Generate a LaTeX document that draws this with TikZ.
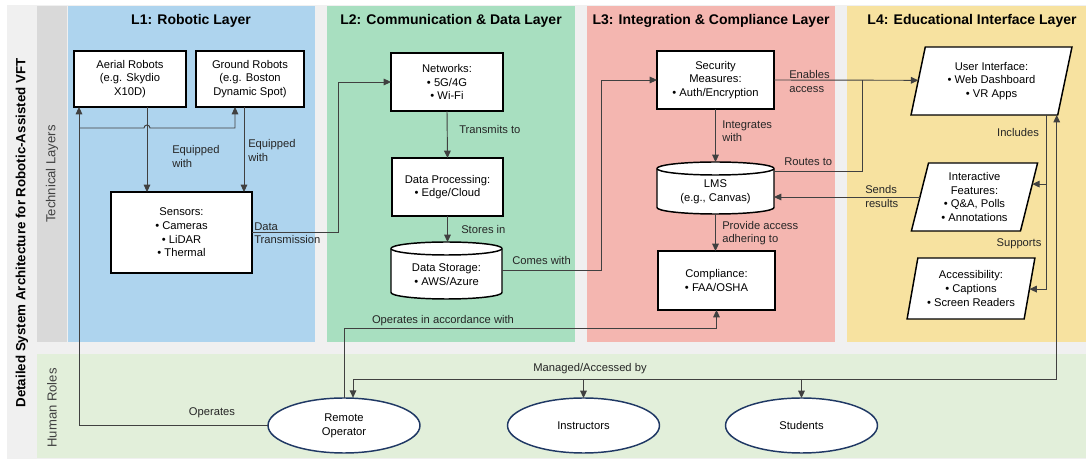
\documentclass[tikz,border=0pt]{standalone}
\usepackage{fontspec}
\setmainfont{Liberation Sans}
\usetikzlibrary{arrows.meta,calc,shapes.geometric}
\definecolor{bgG}{HTML}{F0F0F0}
\definecolor{stripG}{HTML}{D9D9D9}
\definecolor{lyA}{HTML}{AED4EE}
\definecolor{lyB}{HTML}{A8DFC0}
\definecolor{lyC}{HTML}{F4B6B0}
\definecolor{lyD}{HTML}{F7E2A0}
\definecolor{humB}{HTML}{E2EFDA}
\definecolor{lnC}{HTML}{404040}
\definecolor{navyC}{HTML}{1F3864}
\definecolor{txC}{HTML}{262626}
\newcommand{\fbody}{\fontsize{8.4}{10.3}\selectfont}
\newcommand{\flab}{\fontsize{8.4}{9.8}\selectfont}
\newcommand{\ftitle}{\bfseries\fontsize{10.5}{12}\selectfont}
\begin{document}
\begin{tikzpicture}[x=0.75pt,y=-0.75pt,
  box/.style={draw=black,line width=1.1pt,fill=white,align=center,font=\fbody,text=black,inner sep=0pt,outer sep=0pt},
  para/.style={box,trapezium,trapezium left angle=76,trapezium right angle=104,trapezium stretches},
  role/.style={ellipse,draw=navyC,line width=1.1pt,fill=white,align=center,font=\fbody,inner sep=0pt,outer sep=0pt,minimum width=114pt,minimum height=41.25pt},
  lbl/.style={font=\flab,text=txC,align=left,inner sep=0pt},
  ttl/.style={font=\ftitle,text=black,inner sep=0pt},
  side/.style={font=\fontsize{9.8}{11}\selectfont,text=lnC,rotate=90,inner sep=0pt},
  arr/.style={draw=lnC,line width=0.7pt,-{Triangle[length=5.5pt,width=5pt]}},
  darr/.style={draw=lnC,line width=0.7pt,{Triangle[length=5.5pt,width=5pt]}-{Triangle[length=5.5pt,width=5pt]}},
  ln/.style={draw=lnC,line width=0.7pt},
  cyl/.style={draw=black,line width=1.1pt,fill=white}
]
\useasboundingbox (0,0) rectangle (1086,459);
% backgrounds
\fill[white] (0,0) rectangle (1086,459);
\fill[bgG] (7,5) rectangle (1086,459);
\fill[stripG] (37,6) rectangle (67,342);
\fill[lyA] (68,6) rectangle (315,342);
\fill[lyB] (327,6) rectangle (575,342);
\fill[lyC] (587,6) rectangle (835,342);
\fill[lyD] (847,6) rectangle (1086,342);
\fill[humB] (37,354) rectangle (1086,458);

% side titles
\node[rotate=90,font=\bfseries\fontsize{10}{12}\selectfont,inner sep=0pt] (mainttl) at (22,233) {Detailed System Architecture for Robotic-Assisted VFT};
\node[side] (techttl) at (52,174) {Technical Layers};
\node[side] (humttl) at (52,408) {Human Roles};

% layer titles
\node[ttl] (t1) at (191,21) {L1: Robotic Layer};
\node[ttl] (t2) at (451,21) {L2: Communication \& Data Layer};
\node[ttl] (t3) at (711,21) {L3: Integration \& Compliance Layer};
\node[ttl] (t4) at (972,21) {L4: Educational Interface Layer};

% L1
\node[box,minimum width=84pt,minimum height=42pt] (aerial) at (130,79) {Aerial Robots\\(e.g. Skydio\\X10D)};
\node[box,minimum width=81pt,minimum height=42pt] (ground) at (250,79) {Ground Robots\\(e.g. Boston\\Dynamic Spot)};
\node[box,minimum width=105.75pt,minimum height=60.75pt] (sensors) at (181.5,232.5) {Sensors:\\• Cameras\\• LiDAR\\• Thermal};

% L2
\node[box,minimum width=84pt,minimum height=43.5pt] (networks) at (447,82) {Networks:\\• 5G/4G\\• Wi-Fi};
\node[box,minimum width=83.25pt,minimum height=43.5pt] (dp) at (447.5,187) {Data Processing:\\• Edge/Cloud};
\draw[cyl] (391,248.5) -- (391,292.5) arc[start angle=180,end angle=0,x radius=55.5,y radius=6.5] -- (502,248.5) arc[start angle=0,end angle=-180,x radius=55.5,y radius=6.5] -- cycle;
\draw[cyl] (391,248.5) arc[start angle=180,end angle=0,x radius=55.5,y radius=6.5];
\node[minimum width=83.25pt,minimum height=42.75pt,inner sep=0pt,outer sep=0pt] (ds) at (446.5,270.5) {};
\node[font=\fbody,align=center,inner sep=0pt] (dstx) at (446.5,275) {Data Storage:\\• AWS/Azure};

% L3
\node[box,minimum width=87.75pt,minimum height=43.5pt] (security) at (715.5,80) {Security\\Measures:\\• Auth/Encryption};
\draw[cyl] (657,168.5) -- (657,207.5) arc[start angle=180,end angle=0,x radius=58.5,y radius=6.5] -- (774,168.5) arc[start angle=0,end angle=-180,x radius=58.5,y radius=6.5] -- cycle;
\draw[cyl] (657,168.5) arc[start angle=180,end angle=0,x radius=58.5,y radius=6.5];
\node[minimum width=87.75pt,minimum height=39pt,inner sep=0pt,outer sep=0pt] (lms) at (715.5,188) {};
\node[font=\fbody,align=center,inner sep=0pt] (lmstx) at (715.5,192) {LMS\\(e.g., Canvas)};
\node[box,minimum width=87.75pt,minimum height=44.25pt] (comp) at (716.5,280.5) {Compliance:\\• FAA/OSHA};

% L4
\node[para,minimum width=120.75pt,minimum height=51pt] (ui) at (991.5,81) {User Interface:\\• Web Dashboard\\• VR Apps};
\node[para,minimum width=95.25pt,minimum height=51pt] (feat) at (974.5,197) {Interactive\\Features:\\• Q\&A, Polls\\• Annotations};
\node[para,minimum width=96pt,minimum height=45.75pt] (acc) at (971,288.5) {Accessibility:\\• Captions\\• Screen Readers};

% roles
\node[role] (ro) at (344,425.5) {Remote\\Operator};
\node[role] (inst) at (583.5,425.5) {Instructors};
\node[role] (stud) at (801.5,425.5) {Students};

% helper coordinates
\path ($(aerial.south)+(17,0)$) coordinate (aeS);
\path ($(ground.south)+(-6,0)$) coordinate (grS);
\path ($(ground.south)+(-15,0)$) coordinate (grO);
\path ($(aerial.south west)+(5,0)$) coordinate (aeO);
\coordinate (brA) at (79,128);
\coordinate (hopL) at (144,128);
\coordinate (dtx) at (338,0);
\coordinate (cwx) at (601,0);
\coordinate (rtx) at (862,0);
\coordinate (mgy) at (0,379);
\coordinate (roT) at (353,397.7);
\path ($(lms.east)+(0,-17)$) coordinate (lmsR);
\path ($(ui.bottom left corner)!0.51!(ui.top left corner)$) coordinate (uiL);
\path ($(ui.bottom right corner)+(-11,0)$) coordinate (uiB1);
\path ($(ui.bottom right corner)+(-1,0)$) coordinate (uiB2);
\path ($(feat.bottom right corner)!0.69!(feat.top right corner)$) coordinate (ftR);
\path ($(feat.bottom left corner)!0.5!(feat.top left corner)$) coordinate (ftL);
\path ($(acc.bottom right corner)!0.49!(acc.top right corner)$) coordinate (acR);

% connectors L1
\draw[arr] (aeS) -- (aeS |- sensors.north);
\draw[arr] (grS) -- (grS |- sensors.north);
\draw[arr] (ro.west) -| (aeO);
\draw[arr] (brA) -- (hopL) arc[start angle=180,end angle=360,radius=3] -| (grO);
\draw[arr] (sensors.east) -| (dtx |- networks.west) -- (networks.west);
% L2
\draw[arr] (networks.south) -- (dp.north);
\draw[arr] (dp.south) -- (dp.south |- ds.north);
\draw[arr] (ds.east) -| (cwx |- security.west) -- (security.west);
% L3
\draw[arr] (security.south) -- (security.south |- lms.north);
\draw[arr] (lms.south) -- (lms.south |- comp.north);
\draw[arr] (ro.north) -- ++(0,-70) -| (comp.south);
\draw[arr] (security.east) -- (uiL);
\draw[ln] (lmsR) -| (rtx |- uiL);
\draw[arr] (ftL) -- (lms.east |- ftL);
% L4
\draw[arr] (uiB1) |- (ftR);
\draw[arr] (uiB1) |- (acR);
\draw[darr] (uiB2) |- (roT |- mgy) -- (roT);
\draw[arr] (inst.north |- mgy) -- (inst.north);
\draw[arr] (stud.north |- mgy) -- (stud.north);

% labels
\node[lbl,anchor=west] (lb1) at (172,156.5) {Equipped\\with};
\node[lbl,anchor=west] (lb2) at (248,150.5) {Equipped\\with};
\node[lbl,anchor=west] (lb3) at (254,233) {Data\\Transmission};
\node[lbl,anchor=west] (lb4) at (459,130) {Transmits to};
\node[lbl,anchor=west] (lb5) at (461,229) {Stores in};
\node[lbl,anchor=west] (lb6) at (512,260) {Comes with};
\node[lbl] (lb7) at (443,321) {Operates in accordance with};
\node[lbl,anchor=west] (lb8) at (722,131.5) {Integrates\\with};
\node[lbl,anchor=west] (lb9) at (722,233) {Provide access\\adhering to};
\node[lbl,anchor=west] (lb10) at (789,81.5) {Enables\\access};
\node[lbl,anchor=west] (lb11) at (784,162) {Routes to};
\node[lbl,anchor=west] (lb12) at (865,196.5) {Sends\\results};
\node[lbl] (lb13) at (1018,133) {Includes};
\node[lbl] (lb14) at (1019,244) {Supports};
\node[lbl] (lb15) at (590,369) {Managed/Accessed by};
\node[lbl] (lb16) at (212,413) {Operates};
\end{tikzpicture}
\end{document}
